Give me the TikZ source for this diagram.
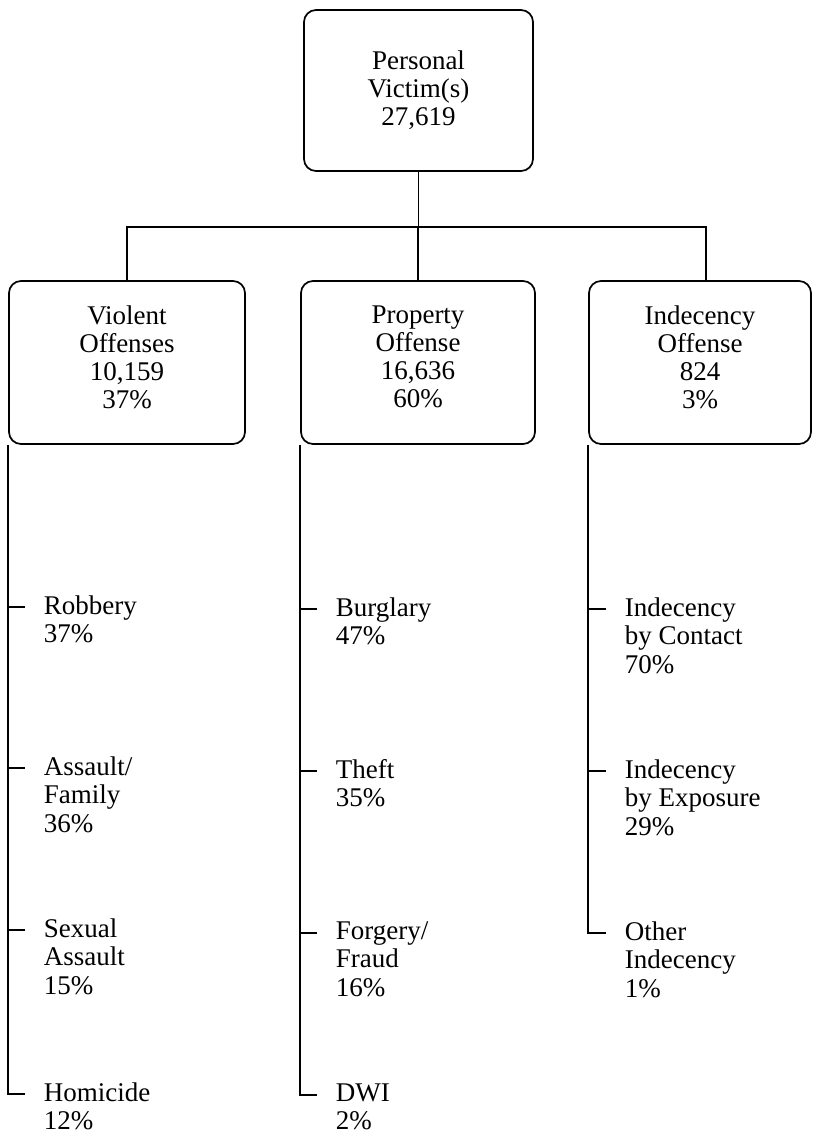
\documentclass[tikz,border=0pt]{standalone}
\usepackage{fontspec}
\setmainfont{Liberation Serif}
\usetikzlibrary{calc}
\begin{document}
\begin{tikzpicture}[x=1pt,y=-1pt,line width=1.7pt,
  box/.style={draw, rounded corners=12pt, align=center, inner sep=0pt,
    font=\fontsize{27}{28}\selectfont},
  subbox/.style={box, minimum height=163pt, text depth=11pt},
  item/.style={anchor=north west, align=left, inner sep=0pt, yshift=12.4pt,
    font=\fontsize{27}{28.5}\selectfont}]
\useasboundingbox (0,0) rectangle (813,1133);
% boxes
\node[box, minimum width=229pt, minimum height=161pt] (top) at (418.5,90.5) {Personal\\Victim(s)\\27,619};
\node[subbox, minimum width=236pt] (v) at (127,362.5) {Violent\\Offenses\\10,159\\37\%};
\node[subbox, minimum width=234pt] (p) at (418,362.5) {Property\\Offense\\16,636\\60\%};
\node[subbox, minimum width=222pt] (i) at (700,362.5) {Indecency\\Offense\\824\\3\%};
% tree connectors
\coordinate (hl) at (418.5,227);
\coordinate (ij) at (706,281.5);
\draw (top.south) -- (top.south |- hl);
\draw (v.north) -- (v.north |- hl) -- (hl -| ij) -- (ij);
\draw (p.north) -- (p.north |- hl);
% items
\node[item] (rob) at (43,607) {Robbery\\37\%};
\node[item] (asf) at (43,768) {Assault/\\Family\\36\%};
\node[item] (sex) at (43,930) {Sexual\\Assault\\15\%};
\node[item] (hom) at (43,1094) {Homicide\\12\%};
\node[item] (bur) at (335,609) {Burglary\\47\%};
\node[item] (the) at (335,771) {Theft\\35\%};
\node[item] (for) at (335,933) {Forgery/\\Fraud\\16\%};
\node[item] (dwi) at (335,1095) {DWI\\2\%};
\node[item] (ibc) at (624,609) {Indecency\\by Contact\\70\%};
\node[item] (ibe) at (624,771) {Indecency\\by Exposure\\29\%};
\node[item] (oth) at (624,933) {Other\\Indecency\\1\%};
% tick end points
\foreach \n in {rob,asf,sex,hom,bur,the,for,dwi,ibc,ibe,oth}
  \coordinate (t\n) at ($(\n.north west)+(-18,12.4)$);
% stems with ticks
\draw (v.south west) |- (thom);
\draw (v.south west |- trob) -- (trob);
\draw (v.south west |- tasf) -- (tasf);
\draw (v.south west |- tsex) -- (tsex);
\draw (p.south west) |- (tdwi);
\draw (p.south west |- tbur) -- (tbur);
\draw (p.south west |- tthe) -- (tthe);
\draw (p.south west |- tfor) -- (tfor);
\draw (i.south west) |- (toth);
\draw (i.south west |- tibc) -- (tibc);
\draw (i.south west |- tibe) -- (tibe);
\end{tikzpicture}
\end{document}
